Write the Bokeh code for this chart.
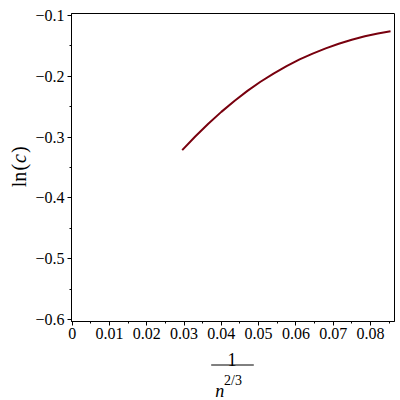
from math import pi
from bokeh.plotting import figure
from bokeh.layouts import row, column
from bokeh.models import FixedTicker, CustomJSTickFormatter, Range1d
from bokeh.core.properties import value
from bokeh.embed import file_html
from bokeh.resources import INLINE

# ---- data ----
x_vals = [0.0295, 0.0330, 0.0365, 0.0400, 0.0435, 0.0470, 0.0505, 0.0540, 0.0575,
          0.0610, 0.0645, 0.0680, 0.0715, 0.0750, 0.0785, 0.0820, 0.0854]
y_vals = [-0.3215, -0.2990, -0.2780, -0.2585, -0.2405, -0.2240, -0.2090, -0.1955,
          -0.1833, -0.1723, -0.1626, -0.1540, -0.1464, -0.1398, -0.1340, -0.1296,
          -0.1260]

x_ticks = [0, 0.01, 0.02, 0.03, 0.04, 0.05, 0.06, 0.07, 0.08]
x_minor = [0.005, 0.015, 0.025, 0.035, 0.045, 0.055, 0.065, 0.075, 0.085]
y_ticks = [-0.6, -0.5, -0.4, -0.3, -0.2, -0.1]
y_minor = [-0.55, -0.45, -0.35, -0.25, -0.15]

y_label_parts = ["ln", "(", "c", ")"]
x_label_num = "1"
x_label_den = "n"
x_label_exp = "2/3"

X_MIN, X_MAX = -0.0002, 0.08646
Y_MIN, Y_MAX = -0.6033, -0.0967

SERIF = "Liberation Serif"

# ---- main plot (page x 32..400, y 0..348; frame 68..394 x 13..321) ----
p = figure(width=368, height=348, output_backend="svg", toolbar_location=None,
           x_range=Range1d(X_MIN, X_MAX), y_range=Range1d(Y_MIN, Y_MAX),
           min_border_left=36, min_border_right=6, min_border_top=13,
           min_border_bottom=27, background_fill_color="white",
           border_fill_color="white")

p.xgrid.visible = False
p.ygrid.visible = False
p.outline_line_color = "black"
p.outline_line_width = 1
p.outline_line_alpha = 1

p.line(x_vals, y_vals, line_color="#78000E", line_width=2)

for ax in (p.xaxis[0], p.yaxis[0]):
    ax.axis_line_color = "black"
    ax.major_tick_line_color = "black"
    ax.minor_tick_line_color = "black"
    ax.major_tick_in = 0
    ax.major_tick_out = 4
    ax.minor_tick_in = 0
    ax.minor_tick_out = 2
    ax.major_label_text_font = SERIF
    ax.major_label_text_font_size = "16px"
    ax.major_label_text_color = "black"
    ax.major_label_standoff = 2
p.yaxis.major_label_standoff = 3

p.xaxis.ticker = FixedTicker(ticks=x_ticks, minor_ticks=x_minor)
p.yaxis.ticker = FixedTicker(ticks=y_ticks, minor_ticks=y_minor)
p.xaxis.formatter = CustomJSTickFormatter(
    code="return Math.abs(tick) < 1e-9 ? '0' : tick.toFixed(2);")
p.yaxis.formatter = CustomJSTickFormatter(
    code="const v = Math.abs(tick).toFixed(1); return tick < 0 ? '\u2212' + v : v;")

# frame on the page: left 68, width 326
FX = 326 / (X_MAX - X_MIN)

def dx(px):
    return X_MIN + (px - 68) / FX

# ---- x axis label strip (page y 348..400; data y = 400 - page y) ----
xl = figure(width=368, height=52, output_backend="svg", toolbar_location=None,
            x_range=p.x_range, y_range=Range1d(0, 52),
            x_axis_type=None, y_axis_type=None,
            min_border_left=36, min_border_right=6, min_border_top=0,
            min_border_bottom=0, background_fill_color="white",
            border_fill_color="white")
xl.xgrid.visible = False
xl.ygrid.visible = False
xl.outline_line_color = None

xl.text(x=[dx(230)], y=[41], text=[x_label_num], text_font=value(SERIF),
        text_font_size="18px", text_align="center", text_baseline="alphabetic",
        text_color="black")
xl.segment(x0=[dx(209)], y0=[35.5], x1=[dx(252)], y1=[35.5],
           line_color="black", line_width=1)
xl.text(x=[dx(213)], y=[10], text=[x_label_den], text_font=value(SERIF),
        text_font_size="18px", text_font_style="italic", text_align="left",
        text_baseline="alphabetic", text_color="black")
xl.text(x=[dx(222)], y=[20], text=[x_label_exp], text_font=value(SERIF),
        text_font_size="14px", text_align="left", text_baseline="alphabetic",
        text_color="black")

# ---- y axis label strip (page x 0..32; data y = 400 - page y) ----
yl = figure(width=32, height=400, output_backend="svg", toolbar_location=None,
            x_range=Range1d(0, 32), y_range=Range1d(0, 400),
            x_axis_type=None, y_axis_type=None, min_border=0,
            background_fill_color="white", border_fill_color="white")
yl.xgrid.visible = False
yl.ygrid.visible = False
yl.outline_line_color = None

starts = [213.3, 230.0, 237.6, 247.4]
styles = ["normal", "normal", "italic", "normal"]
for txt, sy, st in zip(y_label_parts, starts, styles):
    yl.text(x=[18], y=[sy], text=[txt], angle=pi / 2, text_font=value(SERIF),
            text_font_size="20px", text_font_style=st, text_align="left",
            text_baseline="middle", text_color="black")

layout = row(yl, column(p, xl))
open("out.html", "w").write(file_html(layout, INLINE))
